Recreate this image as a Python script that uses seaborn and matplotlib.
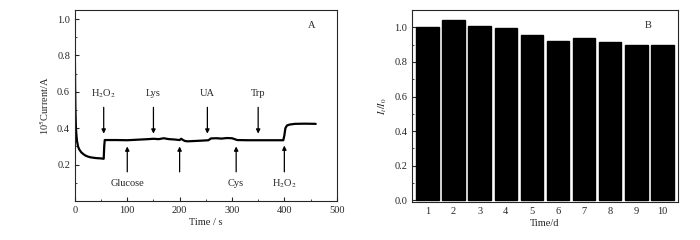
import pandas as pd
import matplotlib.pyplot as plt
import seaborn as sns
from matplotlib.ticker import MultipleLocator

# Panel A: amperometric response
time_s = [0, 0.5, 1, 2, 3, 4, 6, 8, 12, 16, 20, 25, 30, 40, 50, 55, 56, 57, 60, 80, 100, 120,
          140, 150, 160, 170, 175, 180, 190, 200, 203, 206, 210, 215, 230, 250, 255, 260,
          270, 280, 290, 300, 305, 310, 330, 350, 380, 398, 400, 402, 405, 410, 420, 440, 460]
current = [0.77, 0.62, 0.50, 0.40, 0.36, 0.33, 0.30, 0.285, 0.268, 0.258, 0.250, 0.244,
           0.240, 0.236, 0.234, 0.232, 0.30, 0.335, 0.335, 0.335, 0.334, 0.337,
           0.340, 0.342, 0.340, 0.345, 0.342, 0.340, 0.338, 0.335, 0.342, 0.336, 0.330,
           0.328, 0.330, 0.333, 0.334, 0.344, 0.345, 0.343, 0.346, 0.345, 0.340, 0.335,
           0.334, 0.334, 0.334, 0.334, 0.36, 0.40, 0.415, 0.42, 0.424, 0.425, 0.424]

down_labels = ['H$_2$O$_2$', 'Lys', 'UA', 'Trp']
down_times = [55, 150, 253, 350]
up_labels = ['Glucose', '', 'Cys', 'H$_2$O$_2$']
up_times = [100, 200, 308, 400]

# Panel B: stability
days = ['1', '2', '3', '4', '5', '6', '7', '8', '9', '10']
ratio = [1.0, 1.045, 1.01, 0.998, 0.955, 0.92, 0.94, 0.917, 0.90, 0.898]

sns.set_style('ticks')
plt.rcParams['font.family'] = ['Liberation Serif', 'DejaVu Serif']
plt.rcParams['mathtext.fontset'] = 'stix'
plt.rcParams['xtick.direction'] = 'in'
plt.rcParams['ytick.direction'] = 'in'
fs = 7.5

fig = plt.figure(figsize=(7, 2.4), dpi=100)
ax1 = fig.add_axes([0.107, 0.1625, 0.374, 0.796])
ax2 = fig.add_axes([0.589, 0.158, 0.379, 0.80])

df_a = pd.DataFrame({'t': time_s, 'i': current})
sns.lineplot(data=df_a, x='t', y='i', ax=ax1, color='black', linewidth=1.6)
ax1.set_xlim(0, 500)
ax1.set_ylim(0, 1.05)
ax1.set_xticks([0, 100, 200, 300, 400, 500])
ax1.set_yticks([0.2, 0.4, 0.6, 0.8, 1.0])
ax1.xaxis.set_minor_locator(MultipleLocator(50))
ax1.yaxis.set_minor_locator(MultipleLocator(0.1))
ax1.tick_params(which='major', length=3, labelsize=fs)
ax1.tick_params(which='minor', length=1.5)
ax1.set_xlabel('Time / s', fontsize=fs, labelpad=2)
ax1.set_ylabel('10$^5$Current/A', fontsize=fs, labelpad=4)
ax1.text(452, 0.965, 'A', fontsize=fs, ha='center', va='center')

for lab, t in zip(down_labels, down_times):
    ax1.annotate('', xy=(t, 0.355), xytext=(t, 0.53),
                 arrowprops=dict(arrowstyle='-|>', color='black', lw=0.9, mutation_scale=6))
    ax1.text(t, 0.59, lab, fontsize=fs, ha='center', va='center')
for lab, t in zip(up_labels, up_times):
    base = 0.315 if t != 400 else 0.32
    ax1.annotate('', xy=(t, base), xytext=(t, 0.145),
                 arrowprops=dict(arrowstyle='-|>', color='black', lw=0.9, mutation_scale=6))
    if lab:
        ax1.text(t, 0.095, lab, fontsize=fs, ha='center', va='center')

df_b = pd.DataFrame({'day': days, 'r': ratio})
sns.barplot(data=df_b, x='day', y='r', ax=ax2, color='black', width=0.86,
            saturation=1, edgecolor='black')
ax2.set_xlim(-0.58, 9.58)
ax2.set_ylim(-0.01, 1.1)
ax2.set_yticks([0.0, 0.2, 0.4, 0.6, 0.8, 1.0])
ax2.set_yticklabels(['0.0', '0.2', '0.4', '0.6', '0.8', '1.0'])
ax2.yaxis.set_minor_locator(MultipleLocator(0.1))
ax2.tick_params(which='major', length=3, labelsize=fs)
ax2.tick_params(axis='x', length=0)
ax2.tick_params(which='minor', length=1.5)
ax2.set_xlabel('Time/d', fontsize=fs, labelpad=2)
ax2.set_ylabel('$I_t/I_0$', fontsize=fs, labelpad=4)
ax2.text(0.89, 0.92, 'B', transform=ax2.transAxes, fontsize=fs, ha='center', va='center')

for ax in (ax1, ax2):
    for sp in ax.spines.values():
        sp.set_linewidth(0.8)

fig.savefig('out.png', dpi=100)
